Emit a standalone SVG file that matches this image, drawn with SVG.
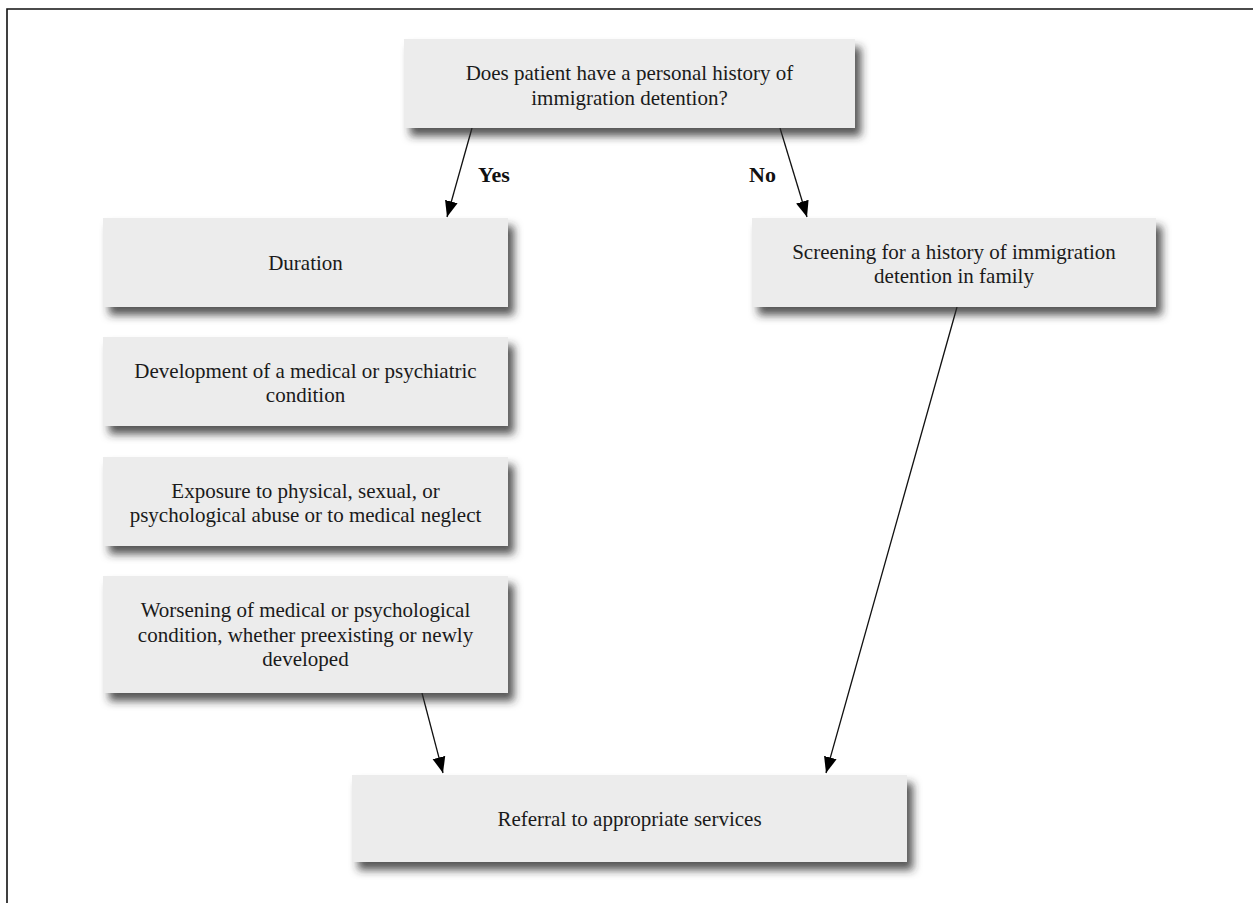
<svg xmlns="http://www.w3.org/2000/svg" width="1253" height="903" viewBox="0 0 1253 903">
<style>
.box{fill:#ececec;filter:url(#sh);}
.t{font-family:"Liberation Serif","Times New Roman",serif;font-size:21px;fill:#1a1a1a;text-anchor:middle;}
.lbl{font-family:"Liberation Serif","Times New Roman",serif;font-size:22px;font-weight:bold;fill:#111;}
.c{stroke:#111;stroke-width:1.3;fill:none;marker-end:url(#ah);}
</style>
<defs>
<filter id="sh" x="-10%" y="-20%" width="130%" height="160%">
<feDropShadow dx="6" dy="8" stdDeviation="4" flood-color="#2a2a2a" flood-opacity="0.8"/>
</filter>
<marker id="ah" markerUnits="userSpaceOnUse" markerWidth="17" markerHeight="14" refX="16" refY="7" orient="auto">
<path d="M0,0.5 L16,7 L0,13.5 Z" fill="#000"/>
</marker>
</defs>
<rect width="1253" height="903" fill="#fff"/>
<path d="M7,903 V9 H1253" fill="none" stroke="#111" stroke-width="1.6"/>
<g id="connectors">
<line class="c" x1="472" y1="128" x2="447" y2="217"/>
<line class="c" x1="780" y1="128" x2="807" y2="217"/>
<line class="c" x1="422" y1="693" x2="443" y2="773"/>
<line class="c" x1="957" y1="307" x2="826" y2="773"/>
<text class="lbl" x="478" y="182">Yes</text>
<text class="lbl" x="749" y="182">No</text>
</g>
<g id="n-question">
<rect class="box" x="404" y="39" width="451" height="89"/>
<text class="t" x="629.5" y="80">Does patient have a personal history of</text>
<text class="t" x="629.5" y="104.5">immigration detention?</text>
</g>
<g id="n-duration">
<rect class="box" x="103" y="218" width="405" height="89"/>
<text class="t" x="305.5" y="270">Duration</text>
</g>
<g id="n-development">
<rect class="box" x="103" y="337" width="405" height="89"/>
<text class="t" x="305.5" y="377.5">Development of a medical or psychiatric</text>
<text class="t" x="305.5" y="402">condition</text>
</g>
<g id="n-exposure">
<rect class="box" x="103" y="457" width="405" height="89"/>
<text class="t" x="305.5" y="497.5">Exposure to physical, sexual, or</text>
<text class="t" x="305.5" y="522">psychological abuse or to medical neglect</text>
</g>
<g id="n-worsening">
<rect class="box" x="103" y="576" width="405" height="117"/>
<text class="t" x="305.5" y="617">Worsening of medical or psychological</text>
<text class="t" x="305.5" y="641.5">condition, whether preexisting or newly</text>
<text class="t" x="305.5" y="666">developed</text>
</g>
<g id="n-screening">
<rect class="box" x="752" y="218" width="404" height="89"/>
<text class="t" x="954" y="258.5">Screening for a history of immigration</text>
<text class="t" x="954" y="283">detention in family</text>
</g>
<g id="n-referral">
<rect class="box" x="352" y="775" width="555" height="87"/>
<text class="t" x="629.5" y="826">Referral to appropriate services</text>
</g>
</svg>
